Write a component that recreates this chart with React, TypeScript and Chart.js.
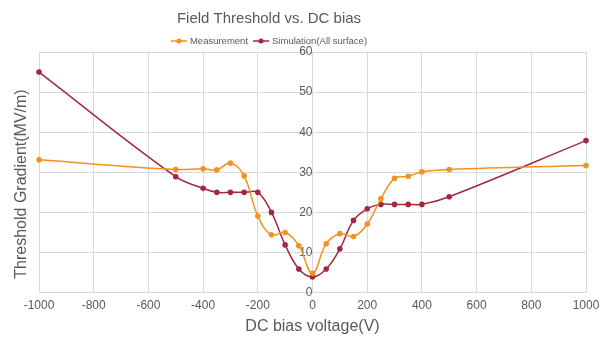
import React, { useEffect, useRef } from "react";
import { Chart, registerables } from "chart.js";

Chart.register(...registerables);

const TITLE = "Field Threshold vs. DC bias";
const X_TITLE = "DC bias voltage(V)";
const Y_TITLE = "Threshold Gradient(MV/m)";
const MEAS_LABEL = "Measurement";
const SIM_LABEL = "Simulation(All surface)";

const measX = [-1000, -500, -400, -350, -300, -250, -200, -150, -100, -50, 0, 50, 100, 150, 200, 250, 300, 350, 400, 500, 1000];
const measY = [33.1, 30.7, 30.9, 30.6, 32.3, 29.1, 19.1, 14.4, 15.0, 11.7, 4.8, 12.2, 14.7, 14.0, 17.1, 23.4, 28.5, 29.0, 30.1, 30.7, 31.7];
const simX = [-1000, -500, -400, -350, -300, -250, -200, -150, -100, -50, 0, 50, 100, 150, 200, 250, 300, 350, 400, 500, 1000];
const simY = [55.0, 28.9, 26.0, 25.0, 25.0, 25.0, 25.0, 20.0, 11.9, 5.9, 3.9, 5.9, 10.9, 18.0, 20.9, 22.0, 22.0, 22.0, 22.0, 23.9, 37.9];

const X_MIN = -1000;
const X_MAX = 1000;
const X_STEP = 200;
const Y_MIN = 0;
const Y_MAX = 60;
const Y_STEP = 10;

const ORANGE = "#F4921F";
const RED = "#A3283E";
const TEXT = "#595959";
const GRID = "#D9D9D9";
const FONT = "'Liberation Sans', Arial, sans-serif";

const textPlugin = {
  id: "textPlugin",
  afterDraw(chart: any) {
    const ctx = chart.ctx as CanvasRenderingContext2D;
    const area = chart.chartArea;
    ctx.save();
    ctx.fillStyle = TEXT;
    ctx.textBaseline = "middle";
    // title
    ctx.font = `15px ${FONT}`;
    ctx.textAlign = "center";
    ctx.fillText(TITLE, 269, 19);
    // legend
    ctx.font = `9.5px ${FONT}`;
    const mw = 16;
    const gap = 3;
    const spacing = 5;
    const w1 = ctx.measureText(MEAS_LABEL).width;
    const w2 = ctx.measureText(SIM_LABEL).width;
    const total = mw + gap + w1 + spacing + mw + gap + w2;
    let x = 269 - total / 2;
    const ly = 41;
    const items = [
      { label: MEAS_LABEL, color: ORANGE, w: w1 },
      { label: SIM_LABEL, color: RED, w: w2 },
    ];
    ctx.textAlign = "left";
    for (const it of items) {
      ctx.strokeStyle = it.color;
      ctx.lineWidth = 1.5;
      ctx.beginPath();
      ctx.moveTo(x, ly);
      ctx.lineTo(x + mw, ly);
      ctx.stroke();
      ctx.fillStyle = it.color;
      ctx.beginPath();
      ctx.arc(x + mw / 2, ly, 2.5, 0, Math.PI * 2);
      ctx.fill();
      ctx.fillStyle = TEXT;
      ctx.fillText(it.label, x + mw + gap, ly + 0.5);
      x += mw + gap + it.w + spacing;
    }
    // x title
    ctx.font = `16px ${FONT}`;
    ctx.textAlign = "center";
    ctx.fillText(X_TITLE, (area.left + area.right) / 2, 327);
    // y title
    ctx.translate(22, 184);
    ctx.rotate(-Math.PI / 2);
    ctx.fillText(Y_TITLE, 0, 0);
    ctx.restore();
  },
};

export default function App() {
  const ref = useRef<HTMLCanvasElement | null>(null);
  useEffect(() => {
    document.body.style.margin = "0";
    const canvas = ref.current;
    if (!canvas) return;
    const chart = new Chart(canvas, {
      type: "line",
      data: {
        datasets: [
          {
            label: MEAS_LABEL,
            data: measX.map((x, i) => ({ x, y: measY[i] })),
            borderColor: ORANGE,
            backgroundColor: ORANGE,
            borderWidth: 1.5,
            pointRadius: 2.8,
            pointBorderWidth: 0,
            tension: 0.4,
            fill: false,
            clip: false,
          },
          {
            label: SIM_LABEL,
            data: simX.map((x, i) => ({ x, y: simY[i] })),
            borderColor: RED,
            backgroundColor: RED,
            borderWidth: 1.5,
            pointRadius: 2.8,
            pointBorderWidth: 0,
            tension: 0.4,
            fill: false,
            clip: false,
          },
        ],
      },
      plugins: [textPlugin],
      options: {
        animation: false,
        responsive: false,
        layout: { padding: { left: 39, right: 20, top: 52, bottom: 19 } },
        plugins: {
          legend: { display: false },
          title: { display: false },
          tooltip: { enabled: false },
        },
        scales: {
          x: {
            type: "linear",
            position: "bottom",
            min: X_MIN,
            max: X_MAX,
            ticks: {
              stepSize: X_STEP,
              color: TEXT,
              font: { family: FONT, size: 12 },
              padding: 6,
              callback: (v: any) => String(v),
            },
            grid: { color: GRID, drawTicks: false, lineWidth: 1 },
            border: { display: true, color: GRID },
          },
          y: {
            type: "linear",
            position: { x: 0 },
            min: Y_MIN,
            max: Y_MAX,
            ticks: {
              stepSize: Y_STEP,
              color: TEXT,
              font: { family: FONT, size: 12 },
              padding: 3,
              callback: (v: any) => String(v),
            },
            grid: { color: GRID, drawTicks: false, lineWidth: 1 },
            border: { display: false },
          },
        },
      },
    } as any);
    return () => chart.destroy();
  }, []);
  return (
    <div style={{ width: 606, height: 338 }}>
      <canvas ref={ref} width={606} height={338} style={{ display: "block", width: 606, height: 338 }} />
    </div>
  );
}
